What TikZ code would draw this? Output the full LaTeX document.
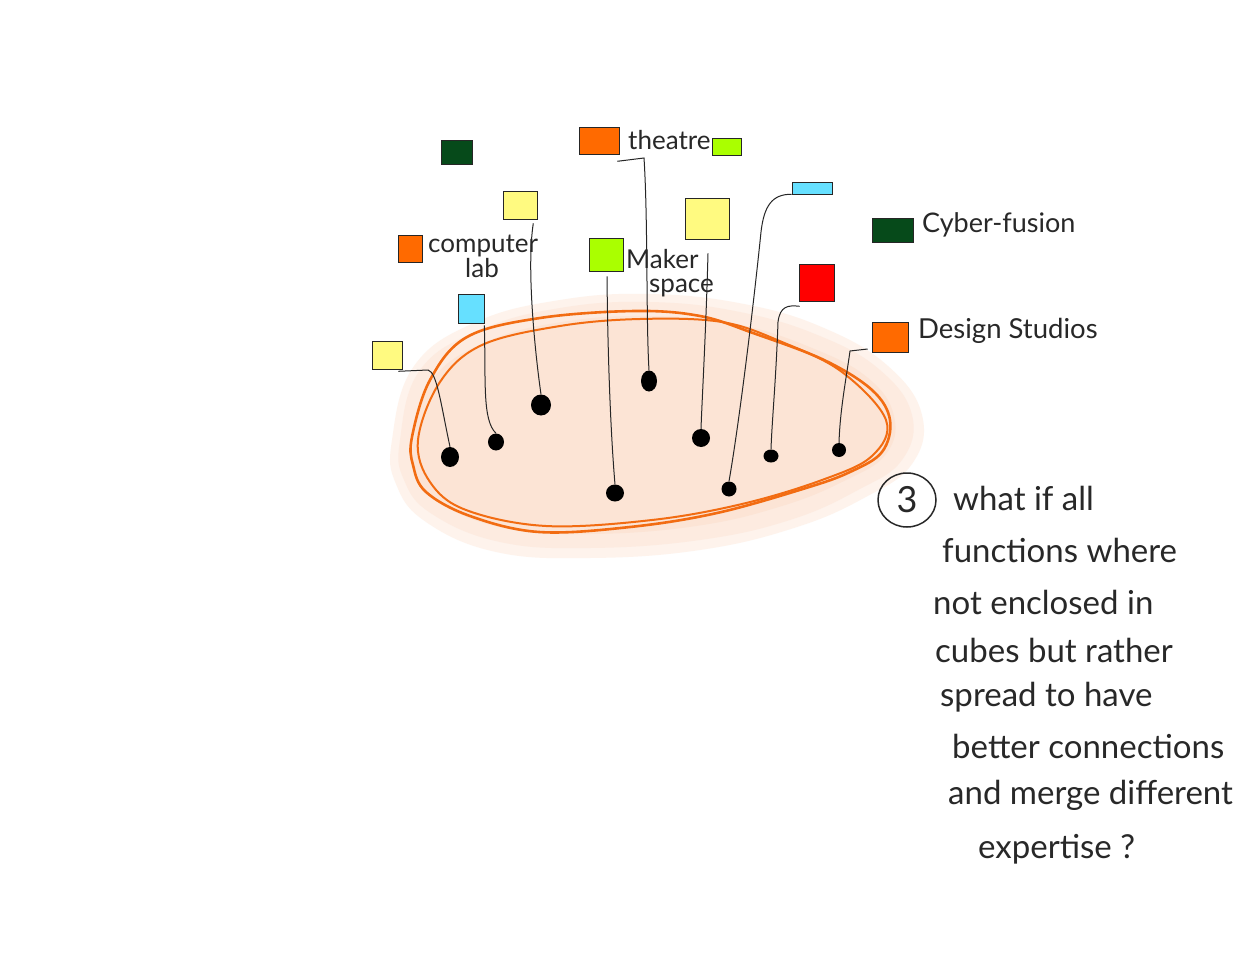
\documentclass[tikz,border=0pt]{standalone}
\usepackage{fontspec}
\setmainfont{Lato}
\usetikzlibrary{calc,shapes.geometric}
\definecolor{dkgreen}{RGB}{6,74,26}
\definecolor{orng}{RGB}{255,106,0}
\definecolor{lime}{RGB}{170,255,0}
\definecolor{ylw}{RGB}{255,250,128}
\definecolor{ltblue}{RGB}{102,224,255}
\definecolor{rd}{RGB}{255,0,0}
\definecolor{loop}{RGB}{242,108,18}
\definecolor{peach}{RGB}{252,228,213}
\definecolor{peachmid}{RGB}{253,235,224}
\definecolor{peachlt}{RGB}{254,243,236}
\definecolor{ink}{RGB}{40,40,40}
\begin{document}
\begin{tikzpicture}[x=1pt,y=-1pt,
  sq/.style={draw=black!85, line width=0.6pt, inner sep=0pt, rectangle},
  dot/.style={ellipse, fill=black, inner sep=0pt},
  conn/.style={draw=black!85, line width=1pt},
  lbl/.style={text=ink, inner sep=0pt, font=\fontsize{26}{28}\selectfont},
  para/.style={text=ink, inner sep=0pt, anchor=base west, font=\fontsize{33}{36}\selectfont},
  loopline/.style={draw=loop, line width=2.6pt}]
\useasboundingbox (0,0) rectangle (1251,955);
\fill[white] (0,0) rectangle (1251,955);
% soft blob
\fill[peachlt] plot[smooth cycle, tension=0.7] coordinates {(392,440) (414,366) (476,322) (560,300) (650,294) (744,304) (824,328) (888,366) (922,415) (912,464) (864,498) (794,528) (700,550) (590,558) (496,552) (426,522) (396,484)};
\fill[peachmid] plot[smooth cycle, tension=0.7] coordinates {(400,440) (420,370) (480,330) (560,308) (650,302) (740,312) (820,336) (880,370) (912,415) (902,460) (858,490) (790,520) (700,540) (590,548) (500,542) (432,514) (404,480)};
\fill[peach] plot[smooth cycle, tension=0.7] coordinates {(414,440) (432,380) (486,342) (562,322) (650,316) (736,324) (812,348) (868,378) (894,416) (886,454) (846,480) (782,506) (696,526) (590,534) (504,528) (442,504) (416,474)};
% orange loop strokes
\draw[loopline] plot[smooth cycle, tension=0.6] coordinates {(412,437) (430,380) (467,337) (540,318) (635,311) (700,316) (753,333) (824,360) (872,390) (890,420) (882,452) (850,472) (806,488) (717,513) (630,527) (539,532) (470,516) (426,492) (413,465)};
\draw[loopline, line width=2pt] plot[smooth cycle, tension=0.6] coordinates {(418,440) (440,382) (482,345) (560,326) (640,319) (722,322) (782,342) (842,372) (886,420) (872,456) (822,480) (742,504) (652,520) (546,526) (466,510) (430,482)};
% squares
\node[sq, fill=dkgreen, minimum width=31, minimum height=24] (s1) at (456.5,152) {};
\node[sq, fill=orng, minimum width=40, minimum height=27] (s2) at (599,140.5) {};
\node[sq, fill=lime, minimum width=29, minimum height=17] (s3) at (726.5,146.5) {};
\node[sq, fill=ylw, minimum width=34, minimum height=28] (s4) at (520,205) {};
\node[sq, fill=orng, minimum width=24, minimum height=27] (s5) at (410,248.5) {};
\node[sq, fill=lime, minimum width=34, minimum height=33] (s6) at (606,254.5) {};
\node[sq, fill=ylw, minimum width=44, minimum height=41] (s7) at (707,218.5) {};
\node[sq, fill=ltblue, minimum width=26, minimum height=29] (s8) at (471,308.5) {};
\node[sq, fill=ltblue, minimum width=40, minimum height=12] (s9) at (812,188) {};
\node[sq, fill=dkgreen, minimum width=41, minimum height=24] (s10) at (892.5,230) {};
\node[sq, fill=rd, minimum width=35, minimum height=37] (s11) at (816.5,282.5) {};
\node[sq, fill=orng, minimum width=36, minimum height=30] (s12) at (890,337) {};
\node[sq, fill=ylw, minimum width=30, minimum height=28] (s13) at (387,355) {};
% dots
\node[dot, minimum width=18, minimum height=20] (d1) at (450,457) {};
\node[dot, minimum width=16, minimum height=17] (d2) at (496,442) {};
\node[dot, minimum width=20, minimum height=21] (d3) at (541,405) {};
\node[dot, minimum width=18, minimum height=17] (d4) at (615,493) {};
\node[dot, minimum width=16, minimum height=21] (d5) at (649,381) {};
\node[dot, minimum width=18, minimum height=18] (d6) at (701,438) {};
\node[dot, minimum width=15, minimum height=15] (d7) at (729,489) {};
\node[dot, minimum width=15, minimum height=13] (d8) at (771,456) {};
\node[dot, minimum width=14, minimum height=14] (d9) at (839,450) {};
% connectors
\draw[conn] ($(s13.south east)+(-4,2)$) -- (428,370) .. controls (437,372) and (441,405) .. (d1.north);
\draw[conn] ($(s8.south east)+(0,2)$) .. controls (486,380) and (482,420) .. (d2.north);
\draw[conn] ($(s4.south east)+(-4,4)$) .. controls (526,270) and (536,360) .. (d3.north);
\draw[conn] ($(s6.south)+(1,5)$) .. controls (608,380) and (612,450) .. (d4.north);
\draw[conn] ($(s2.south east)+(-2,7)$) -- (644,158) .. controls (648,220) and (646,320) .. (d5.north);
\draw[conn] ($(s7.south)+(1,14)$) .. controls (706,330) and (702,400) .. (d6.north);
\draw[conn] (s9.south west) .. controls (772,194) and (764,206) .. (761,232) .. controls (752,320) and (738,430) .. (d7.north);
\draw[conn] ($(s11.south west)+(1,5)$) .. controls (788,305) and (780,306) .. (778,322) .. controls (776,380) and (772,420) .. (d8.north);
\draw[conn] ($(s12.west)+(-4,12)$) -- (850,351) .. controls (846,380) and (840,410) .. (d9.north);
% labels
\node[lbl, anchor=base west] (ltheatre) at (628,150) {theatre};
\node[lbl, anchor=base west] (lcomp) at (428,252) {computer};
\node[lbl, anchor=base] (llab) at (482,277) {lab};
\node[lbl, anchor=base west] (lmaker) at (626,268) {Maker};
\node[lbl, anchor=base west] (lspace) at (649,292) {space};
\node[lbl, anchor=base west, font=\fontsize{27}{30}\selectfont] (lcyber) at (922,233) {Cyber-fusion};
\node[lbl, anchor=base west, font=\fontsize{27.5}{30}\selectfont] (ldesign) at (918,338) {Design Studios};
% note
\node[ellipse, draw=ink, line width=1.5pt, minimum width=58, minimum height=54, inner sep=0pt, text=ink, font=\fontsize{36}{38}\selectfont] (n3) at (907,500) {3};
\node[para] (p1) at (953,510) {what if all};
\node[para] (p2) at (942,562) {functions where};
\node[para] (p3) at (933,614) {not enclosed in};
\node[para] (p4) at (935,662) {cubes but rather};
\node[para] (p5) at (940,706) {spread to have};
\node[para] (p6) at (952,758) {better connections};
\node[para] (p7) at (948,804) {and merge different};
\node[para] (p8) at (978,858) {expertise ?};
\end{tikzpicture}
\end{document}
